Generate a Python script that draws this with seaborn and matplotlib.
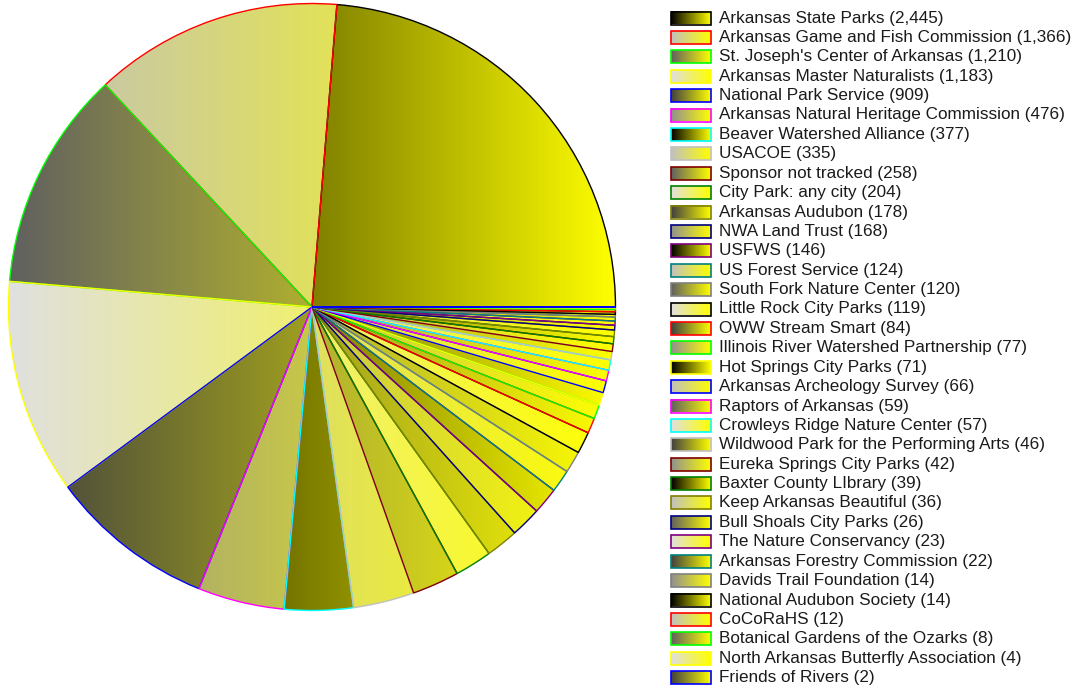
import numpy as np
import seaborn as sns
import matplotlib
matplotlib.use("Agg")
import matplotlib.pyplot as plt
from matplotlib.colors import to_rgb
from matplotlib.patches import Rectangle

# sponsors and counts
sponsors = ["Arkansas State Parks", "Arkansas Game and Fish Commission",
            "St. Joseph's Center of Arkansas", "Arkansas Master Naturalists",
            "National Park Service", "Arkansas Natural Heritage Commission",
            "Beaver Watershed Alliance", "USACOE", "Sponsor not tracked",
            "City Park: any city", "Arkansas Audubon", "NWA Land Trust", "USFWS",
            "US Forest Service", "South Fork Nature Center", "Little Rock City Parks",
            "OWW Stream Smart", "Illinois River Watershed Partnership",
            "Hot Springs City Parks", "Arkansas Archeology Survey", "Raptors of Arkansas",
            "Crowleys Ridge Nature Center", "Wildwood Park for the Performing Arts",
            "Eureka Springs City Parks", "Baxter County LIbrary", "Keep Arkansas Beautiful",
            "Bull Shoals City Parks", "The Nature Conservancy",
            "Arkansas Forestry Commission", "Davids Trail Foundation",
            "National Audubon Society", "CoCoRaHS", "Botanical Gardens of the Ozarks",
            "North Arkansas Butterfly Association", "Friends of Rivers"]
counts = [2445, 1366, 1210, 1183, 909, 476, 377, 335, 258, 204, 178, 168, 146, 124,
          120, 119, 84, 77, 71, 66, 59, 57, 46, 42, 39, 36, 26, 23, 22, 14, 14, 12, 8, 4, 2]

# gradient start colours (cycle) and outline colours (cycle)
grad_starts = ["#000000", "#c0c0c0", "#606060", "#e0e0e0", "#404040", "#909090"]
edge_cycle = ["#000000", "#ff0000", "#00ff00", "#ffff00", "#0000ff", "#ff00ff", "#00ffff",
              "#c0c0c0", "#800000", "#008000", "#808000", "#000080", "#800080", "#008080",
              "#808080"]
grad_end = "#ffff00"

sns.set_theme(style="white")
plt.rcParams["font.family"] = ["Liberation Sans", "DejaVu Sans"]

W, H = 1076, 690
fig = plt.figure(figsize=(W / 100, H / 100), dpi=100)
fig.patch.set_facecolor("white")


def gradient(start, n=256):
    s = np.array(to_rgb(start))
    e = np.array(to_rgb(grad_end))
    t = np.linspace(0, 1, n)[:, None]
    return (s + t * (e - s))[None, :, :]


# pie axes: circle spans px x 7..617, y 2..612
ax = fig.add_axes([7 / W, (H - 612) / H, 610 / W, 610 / H])
edges = [edge_cycle[i % len(edge_cycle)] for i in range(len(counts))]
wedges, _ = ax.pie(counts, startangle=0, counterclock=True, radius=1,
                   colors=["none"] * len(counts),
                   wedgeprops=dict(linewidth=1.0))
for i, w in enumerate(wedges):
    w.set_facecolor("none")
    w.set_edgecolor(edges[i])
    w.set_zorder(3)
    im = ax.imshow(gradient(grad_starts[i % 6]), extent=(-1, 1, -1, 1),
                   aspect="auto", interpolation="bilinear", zorder=1)
    im.set_clip_path(w)
ax.set_xlim(-1.005, 1.005)
ax.set_ylim(-1.005, 1.005)
ax.set_aspect("auto")
ax.axis("off")

# legend drawn in pixel coordinates
lax = fig.add_axes([0, 0, 1, 1])
lax.set_xlim(0, W)
lax.set_ylim(H, 0)
lax.axis("off")
y0, dy = 18, 19.4
for i, (name, v) in enumerate(zip(sponsors, counts)):
    y = y0 + i * dy
    lax.imshow(gradient(grad_starts[i % 6]), extent=(671, 711, y + 6.5, y - 6.5),
               aspect="auto", interpolation="bilinear", zorder=1)
    lax.add_patch(Rectangle((671, y - 6.5), 40, 13, fill=False,
                            edgecolor=edges[i], linewidth=1.2, zorder=2))
    lax.text(719, y, f"{name} ({v:,})", fontsize=12.3, color="#1a1a1a",
             va="center", ha="left")
lax.set_xlim(0, W)
lax.set_ylim(H, 0)

fig.savefig("out.png", dpi=100, facecolor="white")
